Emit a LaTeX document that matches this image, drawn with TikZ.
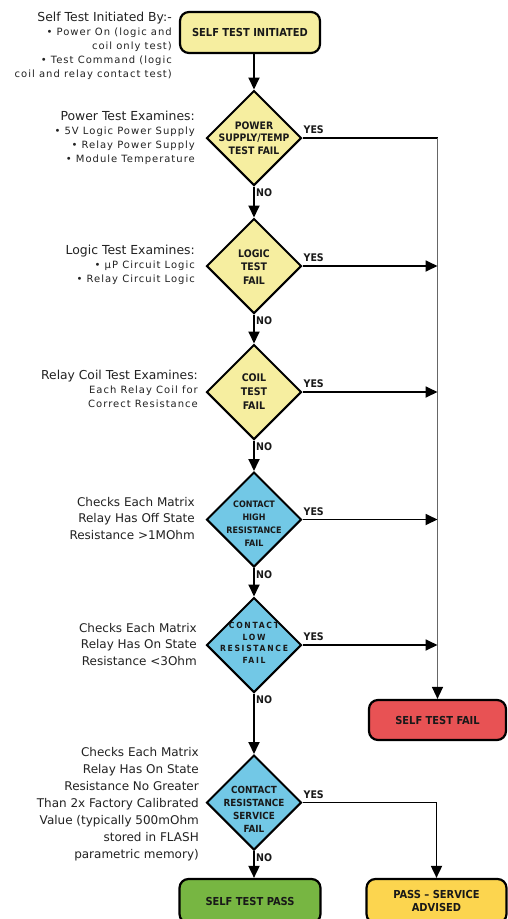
\documentclass[tikz,border=0pt]{standalone}
\usepackage{fontspec}
\setmainfont{DejaVu Sans}
\newfontfamily\spacedfont[LetterSpace=10]{DejaVu Sans}
\newfontfamily\condfont{DejaVu Sans Condensed}
\newfontfamily\condwide[LetterSpace=20]{DejaVu Sans Condensed}
\usetikzlibrary{shapes.geometric,arrows.meta}
\definecolor{pyel}{HTML}{F6EEA0}
\definecolor{pblue}{HTML}{72C8E6}
\definecolor{pred}{HTML}{E85254}
\definecolor{pgreen}{HTML}{77B642}
\definecolor{pgold}{HTML}{FCD54F}
\definecolor{txt}{HTML}{222222}
\begin{document}
\begin{tikzpicture}[x=1pt,y=-1pt,
  fbox/.style={draw=black, line width=2.2pt, rounded corners=9pt, align=center, inner sep=0pt,
    text=black!90, font=\condfont\bfseries\fontsize{11}{13}\selectfont},
  dia/.style={diamond, draw=black, line width=2pt, minimum width=95pt, minimum height=95pt, inner sep=0pt},
  dtext/.style={align=center, inner sep=0pt, text=black!90, font=\condfont\bfseries\fontsize{10.3}{12.5}\selectfont},
  conn/.style={line width=1.8pt, -{Triangle[length=12pt,width=11pt]}},
  lab/.style={inner sep=0pt, text=black!90, font=\condfont\bfseries\fontsize{10.5}{12}\selectfont},
  side/.style={anchor=east, align=right, inner sep=0pt, text=txt},
  bul/.style={side, font=\spacedfont\fontsize{10}{14}\selectfont},
  big/.style={side, font=\fontsize{12}{16.5}\selectfont}
]
\fill[white] (0,0) rectangle (508,919);
\useasboundingbox (0,0) rectangle (508,919);

% boxes
\node[fbox, fill=pyel, minimum width=140pt, minimum height=41pt] (start) at (250,32.5) {SELF TEST INITIATED};
\node[fbox, fill=pred, minimum width=137pt, minimum height=40pt] (fail) at (437.5,720) {SELF TEST FAIL};
\node[fbox, fill=pgreen, minimum width=141pt, minimum height=44pt] (pass) at (250,901) {SELF TEST PASS};
\node[fbox, fill=pgold, minimum width=140pt, minimum height=44pt] (adv) at (436.5,901) {PASS – SERVICE\\ADVISED};

% diamonds
\node[dia, fill=pyel] (d1) at (254,138) {};
\node[dia, fill=pyel] (d2) at (254,266) {};
\node[dia, fill=pyel] (d3) at (254,392) {};
\node[dia, fill=pblue] (d4) at (254,519.5) {};
\node[dia, fill=pblue] (d5) at (254,645) {};
\node[dia, fill=pblue] (d6) at (254,802.5) {};

\node[dtext] (t1) at (254,138) {POWER\\SUPPLY/TEMP\\TEST FAIL};
\node[dtext, font=\condfont\bfseries\fontsize{10.4}{13.5}\selectfont] (t2) at (254,267) {LOGIC\\TEST\\FAIL};
\node[dtext, font=\condfont\bfseries\fontsize{10.5}{14}\selectfont] (t3) at (254,392) {COIL\\TEST\\FAIL};
\node[dtext, font=\condfont\bfseries\fontsize{8.9}{13}\selectfont] (t4) at (254,524) {CONTACT\\HIGH\\RESISTANCE\\FAIL};
\node[dtext, font=\condwide\bfseries\fontsize{8.5}{11.5}\selectfont] (t5) at (254,643) {CONTACT\\LOW\\RESISTANCE\\FAIL};
\node[dtext, font=\condfont\bfseries\fontsize{9.8}{13}\selectfont] (t6) at (254,809.5) {CONTACT\\RESISTANCE\\SERVICE\\FAIL};

% connectors
\draw[conn] (d1.north |- start.south) -- (d1.north);
\draw[conn] (d1.south) -- (d2.north);
\draw[conn] (d2.south) -- (d3.north);
\draw[conn] (d3.south) -- (d4.north);
\draw[conn] (d4.south) -- (d5.north);
\draw[conn] (d5.south) -- (d6.north);
\draw[conn] (d6.south) -- (d6.south |- pass.north);

\coordinate (corner) at (fail.north |- d1.east);
\draw[line width=1.8pt] (d1.east) -- (corner);
\draw[line width=1.3pt, draw=black!60, -{Triangle[length=12pt,width=11pt,color=black]}] (corner) -- (fail.north);
\draw[conn] (d2.east) -- (d2.east -| fail.north);
\draw[conn] (d3.east) -- (d3.east -| fail.north);
\draw[conn] (d4.east) -- (d4.east -| fail.north);
\draw[conn] (d5.east) -- (d5.east -| fail.north);
\draw[conn] (d6.east) -| (adv.north);

% YES / NO labels
\foreach \d in {1,...,6}{
  \node[lab, anchor=south west] (y\d) at ([xshift=1pt,yshift=4pt]d\d.east) {YES};
  \node[lab, anchor=north west] (n\d) at ([xshift=2pt,yshift=-2pt]d\d.south) {NO};
}

% side notes
\node[bul] (s1) at (172,45.5) {{\rmfamily\fontsize{12.4}{14}\selectfont Self Test Initiated By:-}\\• Power On (logic and\\coil only test)\\• Test Command (logic\\coil and relay contact test)};
\node[bul] (s2) at (195,137.5) {{\rmfamily\fontsize{12.4}{14}\selectfont Power Test Examines:}\\• 5V Logic Power Supply\\• Relay Power Supply\\• Module Temperature};
\node[bul] (s3) at (195,265) {{\rmfamily\fontsize{12.4}{14}\selectfont Logic Test Examines:}\\• µP Circuit Logic\\• Relay Circuit Logic};
\node[bul] (s4) at (198,388.5) {{\rmfamily\fontsize{12.3}{14}\selectfont Relay Coil Test Examines:}\\Each Relay Coil for\\Correct Resistance};
\node[big] (s5) at (195,518.5) {Checks Each Matrix\\Relay Has Off State\\Resistance >1MOhm};
\node[big] (s6) at (197,644.5) {Checks Each Matrix\\Relay Has On State\\Resistance <3Ohm};
\node[big, font=\fontsize{12}{17}\selectfont] (s7) at (199,804) {Checks Each Matrix\\Relay Has On State\\Resistance No Greater\\Than 2x Factory Calibrated\\Value (typically 500mOhm\\stored in FLASH\\parametric memory)};
\end{tikzpicture}
\end{document}
